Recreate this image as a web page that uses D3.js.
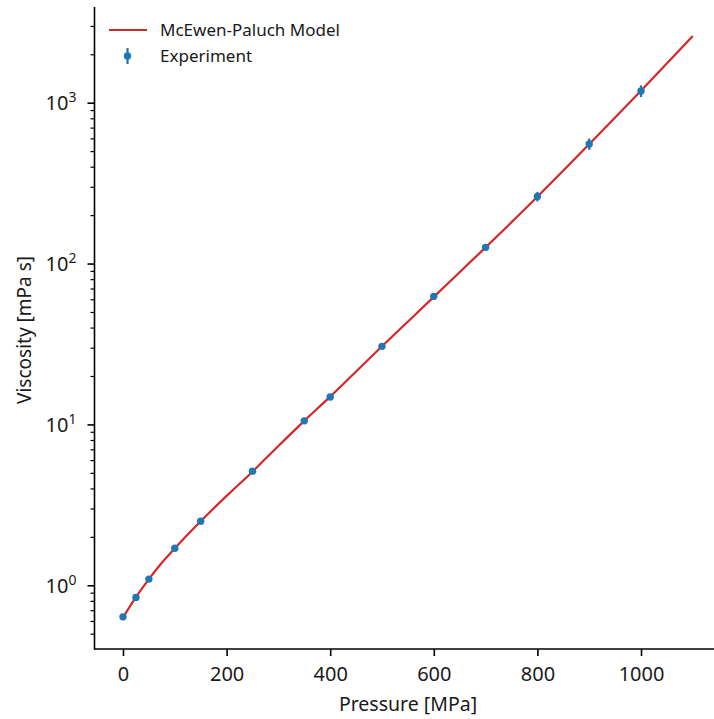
<!DOCTYPE html>
<html><head><meta charset="utf-8">
<script src="https://cdn.jsdelivr.net/npm/d3@7"></script>
<style>body{margin:0;background:#fff}svg{display:block}text{font-family:"Noto Sans",sans-serif;fill:#1a1a1a}</style>
</head><body>
<svg id="c" width="714" height="719"></svg>
<script>
// Experiment data
const expPressure = [0, 25, 50, 100, 150, 250, 350, 400, 500, 600, 700, 800, 900, 1000];
const expViscosity = [0.641, 0.847, 1.10, 1.71, 2.52, 5.16, 10.6, 14.9, 30.8, 63, 127, 263, 558, 1192];
const expError = [0.01, 0.015, 0.02, 0.03, 0.05, 0.1, 0.2, 0.3, 0.6, 2, 6, 18, 45, 100];
// Model curve
const modelPressure = [0, 25, 50, 75, 100, 150, 200, 250, 300, 350, 400, 450, 500, 600, 700, 800, 900, 1000, 1100];
const modelViscosity = [0.635, 0.85, 1.10, 1.39, 1.71, 2.52, 3.62, 5.12, 7.4, 10.6, 15.0, 21.5, 30.8, 62.5, 127, 262, 556, 1195, 2620];
const xTicks = [0, 200, 400, 600, 800, 1000];
const yMajorTicks = [1, 10, 100, 1000];
const yExponents = ["0", "1", "2", "3"];
const legendLabels = ["McEwen-Paluch Model", "Experiment"];

const red = "#d62728", blue = "#1f77b4";
const svg = d3.select("#c");
const x = d3.scaleLinear().domain([-55, 1155]).range([94.5, 721.3]);
const y = d3.scaleLog().domain([Math.pow(10, -0.393), Math.pow(10, 3.598)]).range([649, 7]);

// model line
const line = d3.line().x(d => x(d[0])).y(d => y(d[1])).curve(d3.curveMonotoneX);
svg.append("path").datum(modelPressure.map((p, i) => [p, modelViscosity[i]]))
  .attr("d", line).attr("fill", "none").attr("stroke", red).attr("stroke-width", 2.2);

// error bars + points
const pts = expPressure.map((p, i) => ({p, v: expViscosity[i], e: expError[i]}));
svg.append("g").selectAll("line").data(pts).join("line")
  .attr("x1", d => x(d.p)).attr("x2", d => x(d.p))
  .attr("y1", d => y(d.v - d.e)).attr("y2", d => y(d.v + d.e))
  .attr("stroke", blue).attr("stroke-width", 2.2);
svg.append("g").selectAll("circle").data(pts).join("circle")
  .attr("cx", d => x(d.p)).attr("cy", d => y(d.v)).attr("r", 3.7).attr("fill", blue);

// x axis
const xAxis = d3.axisBottom(x).tickValues(xTicks).tickSize(7).tickPadding(11).tickFormat(d3.format("d"));
const gx = svg.append("g").attr("transform", "translate(0,649)").call(xAxis);
gx.select(".domain").attr("d", `M94.5,0H714`).attr("stroke", "#000").attr("stroke-width", 1.6);
gx.selectAll(".tick line").attr("stroke", "#000").attr("stroke-width", 1.6);
gx.selectAll(".tick text").attr("font-size", 20).attr("font-family", "Noto Sans").attr("fill", "#1a1a1a");

// y axis
const minorTicks = [];
for (let e = -1; e <= 3; e++) for (let m = 2; m <= 9; m++) {
  const v = m * Math.pow(10, e);
  if (v >= y.domain()[0] && v <= y.domain()[1]) minorTicks.push(v);
}
const gy = svg.append("g").attr("transform", "translate(94.5,0)");
gy.append("line").attr("x1", 0).attr("x2", 0).attr("y1", 7).attr("y2", 649.8).attr("stroke", "#000").attr("stroke-width", 1.6);
gy.selectAll(".minor").data(minorTicks).join("line").attr("class", "minor")
  .attr("x1", -4).attr("x2", 0).attr("y1", d => y(d)).attr("y2", d => y(d))
  .attr("stroke", "#000").attr("stroke-width", 1.2);
gy.selectAll(".major").data(yMajorTicks).join("line").attr("class", "major")
  .attr("x1", -7).attr("x2", 0).attr("y1", d => y(d)).attr("y2", d => y(d))
  .attr("stroke", "#000").attr("stroke-width", 1.6);
const lbl = gy.selectAll(".lbl").data(yMajorTicks).join("text").attr("class", "lbl")
  .attr("x", -18).attr("y", d => y(d) + 7).attr("text-anchor", "end").attr("font-size", 20);
lbl.append("tspan").text("10");
lbl.append("tspan").attr("dy", -8).attr("font-size", 14).text((d, i) => yExponents[i]);

// axis labels
svg.append("text").attr("x", 408).attr("y", 711).attr("text-anchor", "middle").attr("font-size", 19.5).text("Pressure [MPa]");
svg.append("text").attr("transform", "translate(31,330) rotate(-90)").attr("text-anchor", "middle").attr("font-size", 19).text("Viscosity [mPa s]");

// legend
const lg = svg.append("g");
lg.append("line").attr("x1", 109).attr("x2", 147).attr("y1", 30).attr("y2", 30).attr("stroke", red).attr("stroke-width", 2.2);
lg.append("text").attr("x", 160).attr("y", 36).attr("font-size", 17).text(legendLabels[0]);
lg.append("line").attr("x1", 127.5).attr("x2", 127.5).attr("y1", 48).attr("y2", 64).attr("stroke", blue).attr("stroke-width", 2.2);
lg.append("circle").attr("cx", 127.5).attr("cy", 56).attr("r", 3.7).attr("fill", blue);
lg.append("text").attr("x", 160).attr("y", 62).attr("font-size", 17).text(legendLabels[1]);
</script>
</body></html>
